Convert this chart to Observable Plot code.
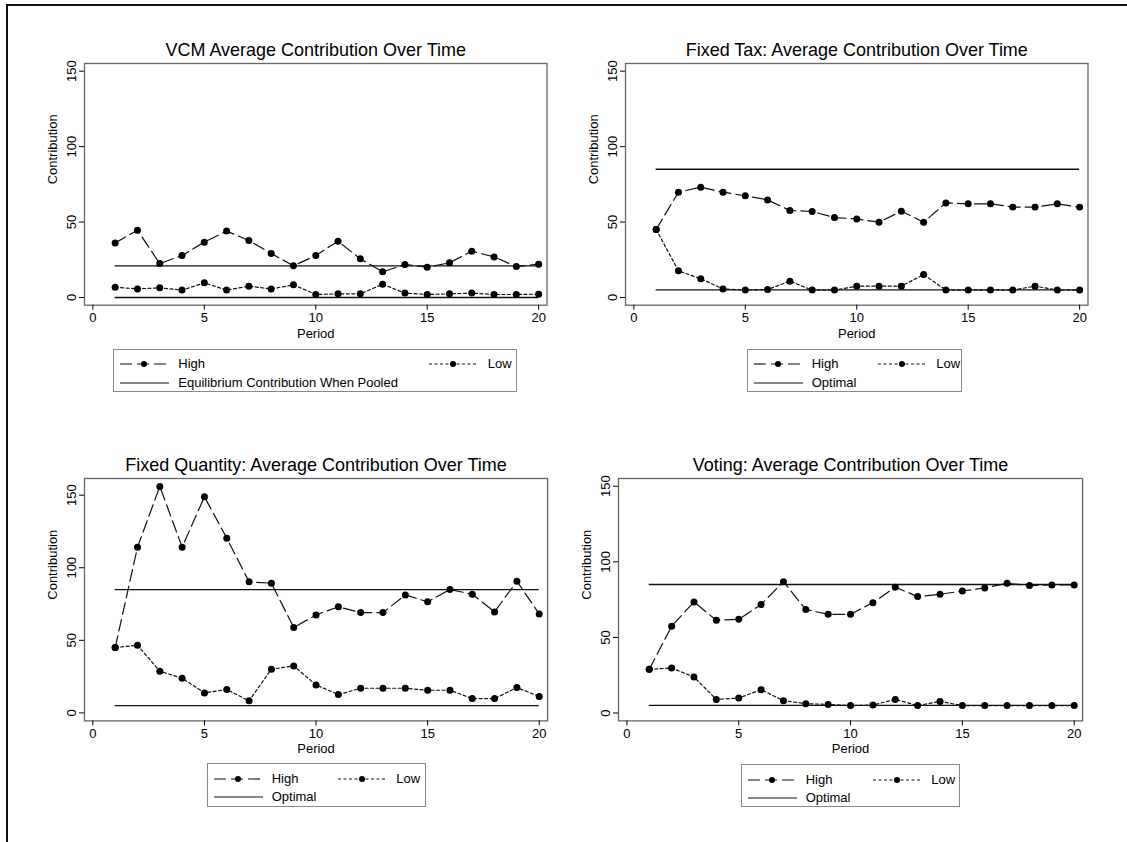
<!DOCTYPE html>
<html>
<head>
<meta charset="utf-8">
<script src="https://cdn.jsdelivr.net/npm/d3@7"></script>
<script src="https://cdn.jsdelivr.net/npm/@observablehq/plot@0.6"></script>
<style>
  html, body { margin: 0; padding: 0; background: #fff; }
  #root { position: relative; width: 1127px; height: 842px; overflow: hidden; background: #fff;
          font-family: "Liberation Sans", Arial, Helvetica, sans-serif; color: #000; }
  .legend { position: absolute; border: 1px solid #888; box-sizing: border-box; background: #fff; }
  .legend span { position: absolute; font-size: 13px; line-height: 16px; white-space: nowrap; transform: translateY(-50%); }
  .legend svg { position: absolute; overflow: visible; }
</style>
</head>
<body>
<div id="root">
  <div style="position:absolute;left:6px;top:4px;width:1300px;height:1000px;border-top:2.5px solid #111;border-left:2.5px solid #111;"></div>
</div>
<script>
// ---- data ----
const periods = [1,2,3,4,5,6,7,8,9,10,11,12,13,14,15,16,17,18,19,20];
const xTicks = [0, 5, 10, 15, 20];
const yTicks = [0, 50, 100, 150];

const vcmHigh = [36.2,44.6,22.5,27.8,36.7,44.0,37.8,29.2,21.0,27.8,37.3,25.6,17.0,21.9,20.1,23.0,30.7,26.9,20.5,22.1];
const vcmLow  = [6.8,5.7,6.4,4.9,9.7,4.9,7.5,5.7,8.4,2.0,2.4,2.4,8.8,2.9,2.0,2.4,2.9,2.0,2.0,2.2];
const vcmRef  = [21, 0];

const taxHigh = [45.1,69.8,73.1,69.8,67.4,64.7,57.7,57.0,53.0,52.1,49.9,57.2,49.9,62.7,62.1,62.1,59.9,59.9,62.1,59.9];
const taxLow  = [45.1,17.7,12.4,5.7,4.9,5.3,10.8,4.9,4.9,7.5,7.5,7.5,15.2,4.9,4.9,4.9,4.9,7.5,4.9,4.9];
const taxRef  = [85, 5];

const qtyHigh = [45.0,114.2,156.0,114.2,148.9,120.4,90.3,89.4,58.8,67.5,73.1,69.1,69.1,81.3,76.5,85.0,81.8,69.6,90.7,68.2];
const qtyLow  = [45.0,46.6,28.7,23.9,13.8,16.1,8.3,30.1,32.4,19.3,12.6,17.0,17.0,17.0,15.6,15.6,9.9,9.9,17.5,11.3];
const qtyRef  = [85, 5];

const voteHigh = [28.9,57.4,73.5,61.3,62.0,71.7,86.9,68.4,65.3,65.3,73.0,83.2,77.0,78.5,80.7,82.7,85.8,84.3,84.7,84.7];
const voteLow  = [28.9,29.8,23.8,9.0,9.9,15.4,8.2,6.2,5.7,4.9,5.3,9.0,4.9,7.7,4.9,4.9,4.9,4.9,4.9,4.9];
const voteRef  = [85, 5];

const titles = [
  "VCM Average Contribution Over Time",
  "Fixed Tax: Average Contribution Over Time",
  "Fixed Quantity: Average Contribution Over Time",
  "Voting: Average Contribution Over Time"
];
const seriesLabels = ["High", "Low"];
const refLabels = ["Equilibrium Contribution When Pooled", "Optimal", "Optimal", "Optimal"];
const xLabel = "Period";
const yLabel = "Contribution";

// ---- layout ----
const root = document.getElementById("root");
const FONT = "'Liberation Sans', Arial, Helvetica, sans-serif";
const HIGH_DASH = "12,5";
const LOW_DASH = "3,2.5";

function panel(cfg) {
  const mL = 60, mR = 15, mT = 35, mB = 40;
  const W = cfg.R - cfg.L + mL + mR;
  const H = cfg.B - cfg.T + mT + mB;
  const high = periods.map((p, i) => ({period: p, value: cfg.high[i]}));
  const low = periods.map((p, i) => ({period: p, value: cfg.low[i]}));
  const svg = Plot.plot({
    width: W, height: H,
    marginLeft: mL, marginRight: mR, marginTop: mT, marginBottom: mB,
    x: {domain: [-0.375, 20.375]},
    y: {domain: cfg.yDomain},
    style: {fontFamily: FONT, fontSize: "13px", color: "#000", background: "transparent", overflow: "visible"},
    marks: [
      Plot.frame({stroke: "#666", strokeWidth: 1.3}),
      Plot.ruleY(cfg.ref, {y: d => d, x1: periods[0], x2: periods[periods.length - 1], stroke: "#111", strokeWidth: 1.3}),
      Plot.line(high, {x: "period", y: "value", stroke: "#111", strokeWidth: 1.2, strokeDasharray: HIGH_DASH}),
      Plot.dot(high, {x: "period", y: "value", r: 3.5, fill: "#000", stroke: null}),
      Plot.line(low, {x: "period", y: "value", stroke: "#111", strokeWidth: 1.2, strokeDasharray: LOW_DASH}),
      Plot.dot(low, {x: "period", y: "value", r: 3.5, fill: "#000", stroke: null}),
      Plot.axisX({ticks: xTicks, tickSize: 5, tickPadding: 3, label: null}),
      Plot.axisY({ticks: yTicks, tickSize: 5, tickRotate: -90, label: null}),
      Plot.text([cfg.title], {frameAnchor: "top", lineAnchor: "bottom", dy: -7.5, fontSize: 18}),
      Plot.text([xLabel], {frameAnchor: "bottom", lineAnchor: "middle", dy: 28.3}),
      Plot.text([yLabel], {frameAnchor: "left", rotate: -90, lineAnchor: "middle", dx: -31.6})
    ]
  });
  svg.style.position = "absolute";
  svg.style.left = (cfg.L - mL) + "px";
  svg.style.top = (cfg.T - mT) + "px";
  root.appendChild(svg);
}

function sample(box, x, yc, w, dash, marker) {
  const ns = "http://www.w3.org/2000/svg";
  const s = document.createElementNS(ns, "svg");
  s.setAttribute("width", w); s.setAttribute("height", 10);
  s.style.left = x + "px"; s.style.top = (yc - 5) + "px";
  const l = document.createElementNS(ns, "line");
  l.setAttribute("x1", 0); l.setAttribute("x2", w); l.setAttribute("y1", 5); l.setAttribute("y2", 5);
  l.setAttribute("stroke", "#111"); l.setAttribute("stroke-width", 1.2);
  if (dash) l.setAttribute("stroke-dasharray", dash);
  s.appendChild(l);
  if (marker) {
    const c = document.createElementNS(ns, "circle");
    c.setAttribute("cx", 24); c.setAttribute("cy", 5); c.setAttribute("r", 3); c.setAttribute("fill", "#000");
    s.appendChild(c);
  }
  box.appendChild(s);
}
function label(box, x, yc, text) {
  const sp = document.createElement("span");
  sp.textContent = text;
  sp.style.left = x + "px"; sp.style.top = yc + "px";
  box.appendChild(sp);
}
function legend(left, top, width, height, lowOffset, refLabel) {
  const box = document.createElement("div");
  box.className = "legend";
  Object.assign(box.style, {left: left + "px", top: top + "px", width: width + "px", height: height + "px"});
  const r1 = 14.3, r2 = 32.7;
  sample(box, 6, r1, 49, HIGH_DASH, true);
  label(box, 64, r1, seriesLabels[0]);
  sample(box, lowOffset, r1, 49, LOW_DASH, true);
  label(box, lowOffset + 58.5, r1, seriesLabels[1]);
  sample(box, 6, r2, 49, null, false);
  label(box, 64, r2, refLabel);
  root.appendChild(box);
}

panel({title: titles[0], high: vcmHigh, low: vcmLow, ref: vcmRef, L: 84.3, R: 546.8, T: 63.3, B: 305, yDomain: [-5.1, 155.1]});
panel({title: titles[1], high: taxHigh, low: taxLow, ref: taxRef, L: 624.9, R: 1087.4, T: 63.3, B: 305, yDomain: [-5.1, 155.1]});
panel({title: titles[2], high: qtyHigh, low: qtyLow, ref: qtyRef, L: 84.3, R: 547.4, T: 478.3, B: 720.7, yDomain: [-5.5, 161.5]});
panel({title: titles[3], high: voteHigh, low: voteLow, ref: voteRef, L: 618.3, R: 1082.4, T: 478.3, B: 720.7, yDomain: [-5.2, 155.1]});

legend(113.3, 349, 404, 43, 315, refLabels[0]);
legend(746.7, 349, 215, 43, 130, refLabels[1]);
legend(206.7, 763.3, 219.3, 44, 130, refLabels[2]);
legend(740.7, 764.3, 219.3, 43, 131, refLabels[3]);
</script>
</body>
</html>
